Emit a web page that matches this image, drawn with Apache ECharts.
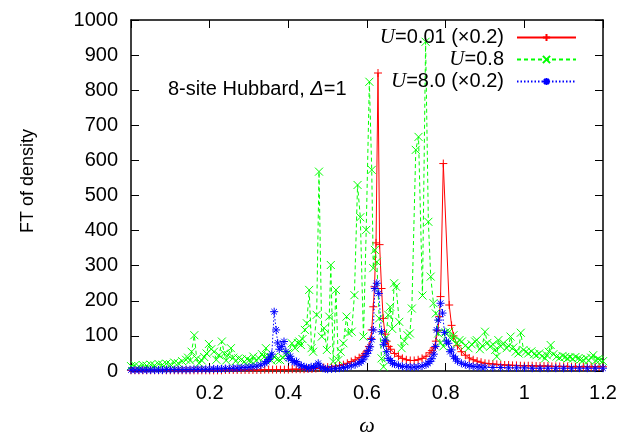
<!DOCTYPE html>
<html>
<head>
<meta charset="utf-8">
<script src="https://cdn.jsdelivr.net/npm/echarts@6/dist/echarts.min.js"></script>
<style>html,body{margin:0;padding:0;background:#fff}#c{width:623px;height:437px}</style>
</head>
<body>
<div id="c"></div>
<script>
// ---- data ----
var xTicks = [0.2, 0.4, 0.6, 0.8, 1, 1.2];
var yTicks = [0, 100, 200, 300, 400, 500, 600, 700, 800, 900, 1000];

var redOmega = [0,0.01,0.02,0.03,0.04,0.05,0.06,0.07,0.08,0.09,0.10,0.11,0.12,0.13,0.14,0.15,0.16,0.17,0.18,0.19,0.20,0.21,0.22,0.23,0.24,0.25,0.26,0.27,0.28,0.29,0.30,0.31,0.32,0.33,0.34,0.35,0.36,0.37,0.38,0.39,0.40,0.41,0.42,0.43,0.44,0.45,0.46,0.47,0.48,0.49,0.50,0.51,0.52,0.53,0.54,0.55,0.56,0.57,0.58,0.59,0.595,0.60,0.605,0.61,0.612,0.616,0.619,0.623,0.628,0.632,0.637,0.641,0.646,0.65,0.655,0.66,0.67,0.68,0.69,0.70,0.71,0.72,0.73,0.74,0.75,0.76,0.765,0.77,0.775,0.78,0.784,0.787,0.794,0.809,0.815,0.82,0.83,0.84,0.85,0.86,0.87,0.88,0.89,0.90,0.91,0.92,0.93,0.94,0.95,0.96,0.97,0.98,0.99,1.00,1.01,1.02,1.03,1.04,1.05,1.06,1.07,1.08,1.09,1.10,1.11,1.12,1.13,1.14,1.15,1.16,1.17,1.18,1.19,1.20];
var redValues = [2,2,2,2,2,2,2,2,2,2,2,2,2,2,2,2,2,2,2,2,2,2,2,2,3,3,3,3,3,3,3,3,3,3,4,4,4,4,4,4,4,5,5,5,5,6,6,7,9,10,11,12,14,16,18,22,27,32,38,45,50,57,70,92,117,183,240,365,849,360,235,150,105,85,70,62,50,42,36,32,30,30,32,36,42,52,58,66,85,115,155,212,591,188,130,100,72,55,45,37,32,28,25,22,21,20,19,18,17,17,16,16,15,15,15,15,14,14,14,14,13,13,13,13,13,12,12,12,12,12,12,12,12,12];

var greenOmega = [0,0.01,0.02,0.03,0.04,0.05,0.06,0.07,0.08,0.09,0.10,0.11,0.12,0.13,0.14,0.145,0.150,0.154,0.161,0.167,0.173,0.18,0.186,0.192,0.198,0.204,0.211,0.217,0.224,0.231,0.237,0.242,0.247,0.254,0.26,0.266,0.273,0.281,0.288,0.295,0.30,0.306,0.311,0.318,0.325,0.333,0.338,0.343,0.35,0.357,0.364,0.372,0.379,0.386,0.393,0.40,0.409,0.417,0.424,0.428,0.432,0.436,0.442,0.447,0.453,0.459,0.463,0.472,0.478,0.485,0.491,0.498,0.504,0.508,0.514,0.521,0.527,0.533,0.54,0.548,0.553,0.561,0.568,0.576,0.583,0.591,0.598,0.606,0.612,0.616,0.62,0.625,0.631,0.637,0.642,0.648,0.654,0.659,0.664,0.669,0.674,0.682,0.688,0.695,0.703,0.709,0.714,0.724,0.731,0.741,0.749,0.756,0.762,0.769,0.775,0.781,0.787,0.794,0.80,0.809,0.815,0.82,0.828,0.835,0.841,0.85,0.858,0.866,0.875,0.879,0.887,0.893,0.90,0.906,0.913,0.92,0.926,0.93,0.934,0.94,0.947,0.955,0.96,0.965,0.972,0.978,0.985,0.991,0.998,1.004,1.01,1.018,1.025,1.031,1.038,1.045,1.053,1.057,1.062,1.067,1.074,1.082,1.09,1.097,1.104,1.11,1.116,1.123,1.13,1.137,1.143,1.15,1.157,1.164,1.17,1.175,1.182,1.188,1.192,1.2];
var greenValues = [14,16,13,17,15,18,16,20,18,21,19,24,22,28,32,38,30,55,102,35,22,30,40,50,77,62,55,32,45,84,50,30,45,65,38,28,36,33,26,34,30,28,41,30,36,48,40,65,42,30,40,33,31,38,48,52,79,65,80,84,74,91,117,136,231,65,55,160,568,98,122,60,155,302,27,231,31,55,79,155,108,112,216,530,438,98,402,824,573,293,345,311,150,36,12,95,160,183,120,250,240,140,65,85,102,107,178,630,667,215,938,425,269,193,164,107,80,70,110,112,90,102,78,88,84,72,65,76,84,88,62,72,112,80,69,76,60,41,88,70,79,65,72,98,67,55,50,109,60,55,50,56,48,45,50,42,36,45,55,74,48,41,38,43,40,36,39,35,40,36,33,31,36,30,38,45,30,34,31,28];

var blueOmega = [0,0.01,0.02,0.03,0.04,0.05,0.06,0.07,0.08,0.09,0.10,0.11,0.12,0.13,0.14,0.15,0.16,0.17,0.18,0.19,0.20,0.21,0.22,0.23,0.24,0.25,0.26,0.27,0.28,0.29,0.30,0.31,0.32,0.33,0.34,0.345,0.35,0.354,0.358,0.364,0.369,0.373,0.377,0.383,0.389,0.394,0.40,0.405,0.41,0.415,0.421,0.427,0.433,0.44,0.446,0.452,0.458,0.464,0.47,0.476,0.482,0.488,0.494,0.50,0.51,0.52,0.53,0.54,0.55,0.56,0.57,0.58,0.585,0.59,0.595,0.60,0.604,0.608,0.612,0.616,0.62,0.625,0.63,0.637,0.642,0.646,0.65,0.654,0.66,0.665,0.67,0.68,0.69,0.70,0.71,0.72,0.73,0.74,0.75,0.755,0.76,0.765,0.77,0.774,0.777,0.781,0.787,0.792,0.797,0.802,0.807,0.811,0.815,0.82,0.825,0.83,0.84,0.85,0.86,0.87,0.88,0.89,0.90,0.92,0.94,0.96,0.98,1.00,1.02,1.04,1.06,1.08,1.10,1.12,1.14,1.16,1.18,1.20];
var blueValues = [3,3,3,3,3,3,3,3,3,4,4,4,4,4,4,4,5,5,5,5,5,6,6,6,7,7,8,8,9,10,11,12,14,17,22,27,33,40,48,169,117,80,62,70,84,55,36,42,30,25,27,18,15,12,10,8,12,10,15,22,12,8,6,5,6,7,8,10,12,15,18,23,27,32,41,50,58,69,90,117,235,250,221,112,75,88,55,36,30,22,20,16,13,12,11,11,12,14,18,22,27,35,48,70,117,145,193,165,110,85,79,55,60,42,35,28,22,18,15,13,12,11,11,10,10,9,9,9,8,8,8,8,8,8,8,8,8,8];

var seriesNames = ['U=0.01 (\u00d70.2)', 'U=0.8', 'U=8.0 (\u00d70.2)'];
var annotation = '8-site Hubbard, ';

function pairs(xs, ys) { return xs.map(function (x, i) { return [x, ys[i]]; }); }

var FONT = 'Liberation Sans, Arial, Helvetica, sans-serif';
var plusPath = 'path://M0,5L10,5M5,0L5,10';
var crossPath = 'path://M0,0L10,10M10,0L0,10';
var starPath = 'path://M0,5L10,5M5,0L5,10M1.5,1.5L8.5,8.5M8.5,1.5L1.5,8.5';

function mkSeries(name, data, color, dash, sym, xi) {
  return {
    name: name, type: 'line', data: data,
    symbol: sym, symbolSize: 8, showSymbol: true,
    lineStyle: { color: color, width: 1, type: dash },
    itemStyle: { color: 'rgba(0,0,0,0)', borderColor: color, borderWidth: 1 },
    emphasis: { disabled: true }, animation: false, clip: true, z: 2 + xi
  };
}

function mkLegend(name, top) {
  return {
    data: [name], orient: 'vertical', right: 46, top: top, padding: 0,
    align: 'right', itemWidth: 59, itemHeight: 9, selectedMode: false,
    textStyle: {
      fontFamily: FONT, fontSize: 20, color: '#000',
      rich: {
        i: { fontFamily: 'Liberation Serif, Times New Roman, serif', fontStyle: 'italic', fontSize: 21, color: '#000' },
        t: { fontFamily: FONT, fontSize: 20, color: '#000' },
        g: { width: 8 }
      }
    },
    formatter: function (n) { return '{i|U}{t|' + n.slice(1) + '}{g|}'; }
  };
}

var axisLine = { show: true, onZero: false, lineStyle: { color: '#000', width: 1.5 } };
var tick = { inside: true, length: 8, lineStyle: { color: '#000', width: 1 } };

var chart = echarts.init(document.getElementById('c'), null, { renderer: 'canvas' });
chart.setOption({
  animation: false,
  backgroundColor: '#fff',
  grid: { left: 131, right: 20, top: 20, bottom: 66, containLabel: false },
  xAxis: [{
    type: 'value', min: 0, max: 1.2, interval: 0.2, position: 'bottom',
    axisLine: axisLine, splitLine: { show: false }, axisTick: tick,
    axisLabel: { margin: 12, fontFamily: FONT, fontSize: 20, color: '#000',
      formatter: function (v) { return xTicks.indexOf(+v.toFixed(2)) >= 0 ? String(+v.toFixed(2)) : ''; } }
  }, {
    type: 'value', min: 0, max: 1.2, interval: 0.2, position: 'top',
    axisLine: axisLine, splitLine: { show: false }, axisTick: tick,
    axisLabel: { show: false }
  }],
  yAxis: [{
    type: 'value', min: 0, max: 1000, interval: 100, position: 'left',
    axisLine: axisLine, splitLine: { show: false }, axisTick: tick,
    axisLabel: { margin: 13, fontFamily: FONT, fontSize: 20, color: '#000',
      formatter: function (v) { return yTicks.indexOf(v) >= 0 ? String(v) : ''; } }
  }, {
    type: 'value', min: 0, max: 1000, interval: 100, position: 'right',
    axisLine: axisLine, splitLine: { show: false }, axisTick: tick,
    axisLabel: { show: false }
  }],
  legend: [mkLegend(seriesNames[0], 27), mkLegend(seriesNames[1], 49), mkLegend(seriesNames[2], 71)],
  series: [
    mkSeries(seriesNames[0], pairs(redOmega, redValues), '#ff0000', 'solid', plusPath, 0),
    mkSeries(seriesNames[1], pairs(greenOmega, greenValues), '#00ff00', [4, 3], crossPath, 1),
    mkSeries(seriesNames[2], pairs(blueOmega, blueValues), '#0000ff', [1.5, 2], starPath, 2)
  ],
  graphic: [
    { type: 'text', left: 168, top: 79, z: 10,
      style: { text: '{a|' + annotation + '}{d|\u0394}{a|=1}', fill: '#000',
        rich: { a: { fontFamily: FONT, fontSize: 20, fill: '#000' },
                d: { fontFamily: FONT, fontStyle: 'italic', fontSize: 20, fill: '#000' } } } },
    { type: 'text', x: 28, y: 181, rotation: Math.PI / 2, z: 10,
      style: { text: 'FT of density', fontFamily: FONT, fontSize: 18, fill: '#000', align: 'center', verticalAlign: 'middle' } },
    { type: 'text', x: 367, y: 426, z: 10,
      style: { text: '\u03c9', fontFamily: 'Liberation Serif, Times New Roman, serif', fontStyle: 'italic', fontSize: 22, fill: '#000', align: 'center', verticalAlign: 'middle' } }
  ]
});
</script>
</body>
</html>
